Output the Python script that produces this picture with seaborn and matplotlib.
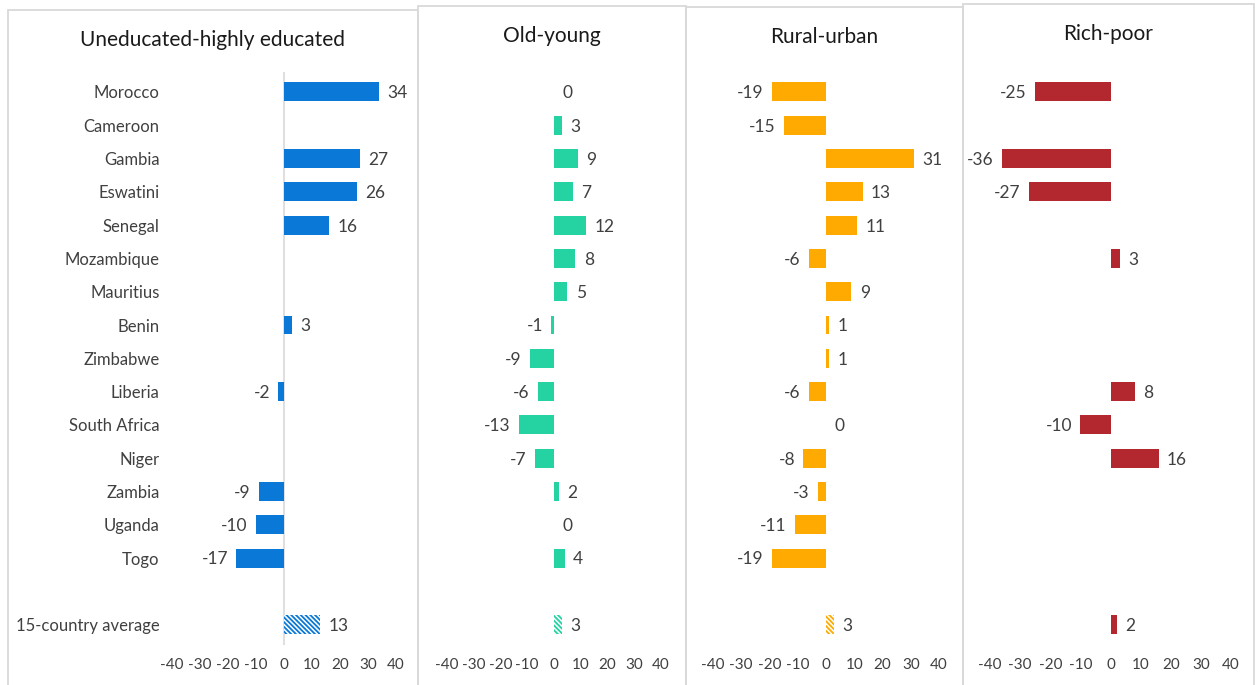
import numpy as np
import pandas as pd
import matplotlib
matplotlib.use("Agg")
import matplotlib.pyplot as plt
import seaborn as sns
from matplotlib.patches import Rectangle

sns.set_theme(style="white")
plt.rcParams['font.family'] = ['Lato', 'DejaVu Sans']
plt.rcParams['hatch.linewidth'] = 1.3

countries = ["Morocco", "Cameroon", "Gambia", "Eswatini", "Senegal", "Mozambique",
             "Mauritius", "Benin", "Zimbabwe", "Liberia", "South Africa", "Niger",
             "Zambia", "Uganda", "Togo"]
avg_label = "15-country average"
nan = np.nan
educ = [34, nan, 27, 26, 16, nan, nan, 3, nan, -2, nan, nan, -9, -10, -17]
educ_avg = 13
age = [0, 3, 9, 7, 12, 8, 5, -1, -9, -6, -13, -7, 2, 0, 4]
age_avg = 3
rural = [-19, -15, 31, 13, 11, -6, 9, 1, 1, -6, 0, -8, -3, -11, -19]
rural_avg = 3
rich = [-25, nan, -36, -27, nan, 3, nan, nan, nan, 8, -10, 16, nan, nan, nan]
rich_avg = 2

titles = ["Uneducated-highly educated", "Old-young", "Rural-urban", "Rich-poor"]
colors = ["#0A78D6", "#24D3A1", "#FFAA00", "#B3272E"]
series = [educ, age, rural, rich]
avgs = [educ_avg, age_avg, rural_avg, rich_avg]
hatched = [True, True, True, False]

order = countries + [" "] + [avg_label]

W, H = 1255, 685
fig = plt.figure(figsize=(W / 100, H / 100), dpi=100)

# panel frames (pixels: left, top, right)
panels = [(8, 10, 418), (418, 6, 686), (686, 7, 963), (963, 4, 1254)]
for (l, t, r) in panels:
    fig.patches.append(Rectangle((l / W, -0.01), (r - l) / W, (H - t) / H + 0.01,
                                 transform=fig.transFigure, fill=False,
                                 edgecolor="#D9D9D9", linewidth=1.3, zorder=0))

ax_px = [(172, 396), (447, 661), (713, 939), (990, 1231)]
top_px, bot_px = 72, 644.6
text_col = "#404040"

for i in range(4):
    l, r = ax_px[i]
    ax = fig.add_axes([l / W, (H - bot_px) / H, (r - l) / W, (bot_px - top_px) / H])
    ax.set_facecolor("none")
    vals = list(series[i]) + [nan, avgs[i]]
    df = pd.DataFrame({"cat": order, "val": vals}).dropna()
    sns.barplot(data=df, x="val", y="cat", order=order, orient="h", color=colors[i],
                saturation=1, width=0.57, ax=ax, errorbar=None, linewidth=0)
    for p in ax.patches:
        yc = p.get_y() + p.get_height() / 2
        if abs(yc - 16) < 0.1 and hatched[i]:
            p.set_facecolor("white")
            p.set_edgecolor(colors[i])
            p.set_hatch("\\\\\\\\\\\\\\")
            p.set_linewidth(0)
    # value labels
    for k, v in enumerate(vals):
        if np.isnan(v):
            continue
        if v >= 0:
            ax.annotate(f"{v:.0f}", (v, k), xytext=(6, -1), textcoords="offset points",
                        ha="left", va="center", fontsize=12.5, color=text_col)
        else:
            ax.annotate(f"{v:.0f}", (v, k), xytext=(-6, -1), textcoords="offset points",
                        ha="right", va="center", fontsize=12.5, color=text_col)
    ax.set_xlim(-40, 40)
    ax.set_ylim(16.6, -0.6)
    ax.set_xticks(np.arange(-40, 41, 10))
    ax.set_xticklabels([str(t) for t in range(-40, 41, 10)], fontsize=11, color=text_col)
    ax.tick_params(axis="x", length=0, pad=10)
    ax.set_xlabel("")
    ax.set_ylabel("")
    for s in ax.spines.values():
        s.set_visible(False)
    if i == 0:
        ax.axvline(0, color="#D9D9D9", linewidth=1.2, zorder=0)
        ax.set_yticks(range(len(order)))
        ax.set_yticklabels(order, fontsize=12, color=text_col)
        ax.tick_params(axis="y", length=0, pad=9)
    else:
        ax.set_yticks([])
    pl, pt, pr = panels[i]
    fig.text((pl + pr) / 2 / W, 1 - (pt + 30) / H, titles[i], ha="center", va="center",
             fontsize=15, color="#1A1A1A")

fig.savefig("out.png", dpi=100)
